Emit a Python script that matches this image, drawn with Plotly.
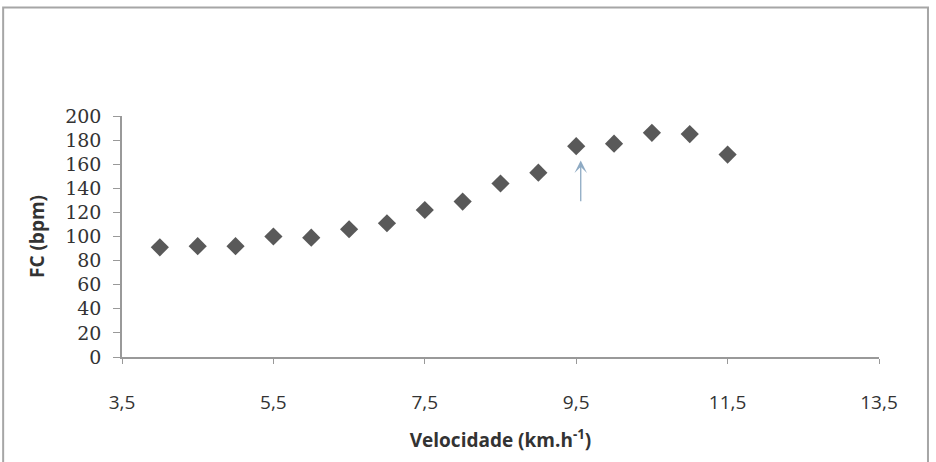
import plotly.graph_objects as go

# velocidade (km/h) e frequência cardíaca (bpm)
velocidade = [4, 4.5, 5, 5.5, 6, 6.5, 7, 7.5, 8, 8.5, 9, 9.5, 10, 10.5, 11, 11.5]
fc = [91, 92, 92, 100, 99, 106, 111, 122, 129, 144, 153, 175, 177, 186, 185, 168]

x_ticks = [3.5, 5.5, 7.5, 9.5, 11.5, 13.5]
x_labels = ['3,5', '5,5', '7,5', '9,5', '11,5', '13,5']
y_ticks = list(range(0, 201, 20))

# seta indicando o ponto (9,5 km/h)
seta_x = 9.56
seta_base = 128
seta_ponta = 163

fig = go.Figure()

fig.add_trace(go.Scatter(
    x=velocidade,
    y=fc,
    mode='markers',
    marker=dict(symbol='diamond', size=14, color='#595959'),
    showlegend=False
))

fig.add_annotation(
    x=seta_x, y=seta_ponta, ax=seta_x, ay=seta_base,
    xref='x', yref='y', axref='x', ayref='y',
    showarrow=True, arrowhead=3, arrowsize=1.6, arrowwidth=1.3,
    arrowcolor='#8eaac3', text=''
)

# moldura do gráfico
fig.add_shape(
    type='rect', xref='paper', yref='paper',
    x0=-0.157, x1=1.0647, y0=-0.6, y1=1.45,
    line=dict(color='#a6a6a6', width=2)
)

fig.update_layout(
    width=936,
    height=462,
    margin=dict(l=122, r=57, t=116, b=105),
    paper_bgcolor='white',
    plot_bgcolor='white',
    font=dict(family='DejaVu Serif', color='#222222'),
    xaxis=dict(
        range=[3.5, 13.5],
        tickvals=x_ticks,
        ticktext=x_labels,
        showgrid=False,
        zeroline=False,
        showline=True,
        linecolor='#999999',
        linewidth=1.5,
        ticks='outside',
        ticklen=5,
        tickcolor='#999999',
        ticklabelstandoff=22,
        automargin=False,
        tickfont=dict(family='Open Sans', size=19, color='#333333'),
        title=dict(text='<b>Velocidade (km.h<sup>-1</sup>)</b>',
                   font=dict(family='Open Sans', size=19, color='#333333'),
                   standoff=20)
    ),
    yaxis=dict(
        range=[0, 200],
        tickvals=y_ticks,
        showgrid=False,
        zeroline=False,
        showline=True,
        linecolor='#999999',
        linewidth=1.5,
        ticks='outside',
        ticklen=7,
        tickcolor='#999999',
        ticklabelstandoff=8,
        automargin=False,
        tickfont=dict(family='DejaVu Serif', size=19, color='#333333'),
        title=dict(text='<b>FC (bpm)</b>',
                   font=dict(family='Open Sans', size=19, color='#333333'),
                   standoff=16)
    )
)

fig.write_html("out.html", config={'displayModeBar': False},
               post_script="document.body.style.margin='0';")
